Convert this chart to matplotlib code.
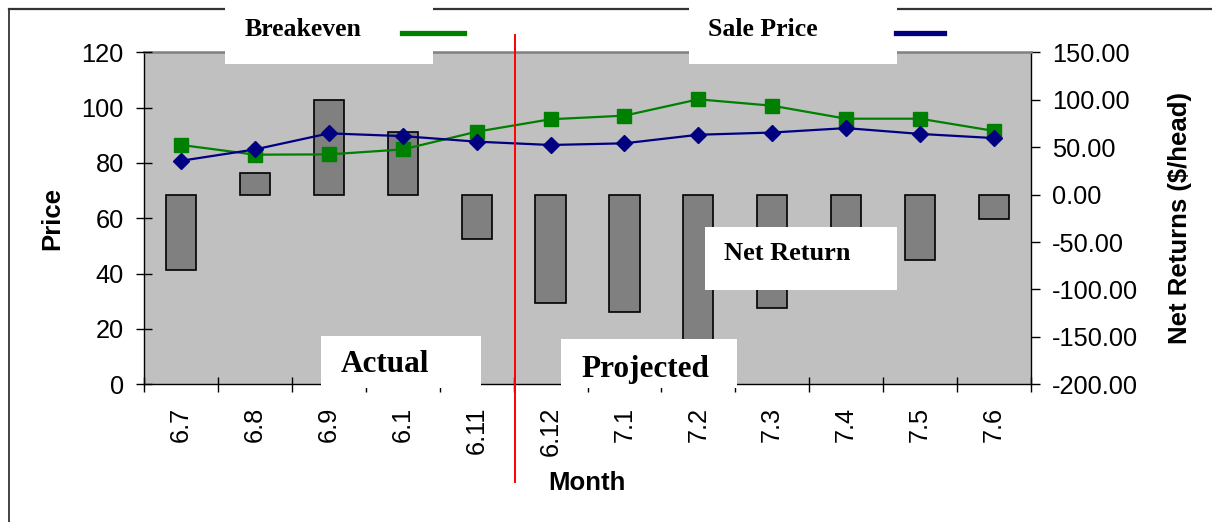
import matplotlib
matplotlib.use("Agg")
import matplotlib.pyplot as plt
from matplotlib.patches import Rectangle
from matplotlib.lines import Line2D
from matplotlib.transforms import blended_transform_factory
import numpy as np

months = ["6.7", "6.8", "6.9", "6.1", "6.11", "6.12", "7.1", "7.2", "7.3", "7.4", "7.5", "7.6"]
breakeven = [86.5, 83.0, 83.1, 84.9, 91.3, 95.8, 97.1, 103.0, 100.7, 96.0, 96.0, 91.6]
sale_price = [80.8, 84.9, 90.7, 89.7, 87.7, 86.5, 87.1, 90.2, 91.0, 92.6, 90.5, 89.0]
net_return = [-79, 23, 100, 66, -47, -114, -124, -160, -120, -75, -69, -26]
price_ticks = [0, 20, 40, 60, 80, 100, 120]
return_ticks = [-200, -150, -100, -50, 0, 50, 100, 150]

W, H = 1212, 522
fig = plt.figure(figsize=(W / 100, H / 100), dpi=100)
SANS = "Liberation Sans"
SERIF = "Liberation Serif"

def fx(px):
    return px / W

def fy(py):
    return 1 - py / H

L, R, T, B = 144.3, 1030.7, 52.3, 384.3
pos = [fx(L), fy(B), fx(R) - fx(L), fy(T) - fy(B)]

# outer frame (only top and left visible)
fig.add_artist(Line2D([fx(9), fx(9)], [fy(9), 0], color="#222222", lw=1.2, transform=fig.transFigure))
fig.add_artist(Line2D([fx(9), 1], [fy(9), fy(9)], color="#333333", lw=1.6, transform=fig.transFigure))

x = np.arange(len(months))

# bars axis (right scale)
axb = fig.add_axes(pos)
axb.set_facecolor("#C0C0C0")
axb.bar(x, net_return, width=0.41, color="#808080", edgecolor="black", linewidth=1.2, zorder=2)
axb.set_ylim(-200, 150)
axb.set_xlim(-0.5, len(months) - 0.5)
axb.yaxis.tick_right()
axb.set_yticks(return_ticks)
axb.set_yticklabels([f"{v:.2f}" for v in return_ticks], fontfamily=SANS, fontsize=18.3)
axb.tick_params(axis="y", direction="out", length=6.5, width=1, pad=9, right=True, left=False)
axb.tick_params(axis="x", which="both", bottom=False, labelbottom=False)
for s in ["left", "right", "bottom"]:
    axb.spines[s].set_color("black")
    axb.spines[s].set_linewidth(1.0)
axb.spines["top"].set_color("#808080")
axb.spines["top"].set_linewidth(1.8)
axb.set_ylabel("Net Returns ($/head)", fontfamily=SANS, fontsize=18.5, fontweight="bold")
axb.yaxis.set_label_position("right")

# lines axis (left scale)
axl = fig.add_axes(pos, sharex=axb)
axl.patch.set_visible(False)
for s in axl.spines.values():
    s.set_visible(False)
axl.plot(x, breakeven, color="#008000", lw=1.6, marker="s", ms=10, mfc="#008000", mec="#008000", zorder=3)
axl.plot(x, sale_price, color="#000080", lw=1.6, marker="D", ms=8, mfc="#000080", mec="#000080", zorder=4)
axl.set_ylim(0, 120)
axl.set_yticks(price_ticks)
axl.set_yticklabels([str(v) for v in price_ticks], fontfamily=SANS, fontsize=18.3)
axl.tick_params(axis="y", direction="inout", length=11.5, width=1, pad=9)
axl.set_xticks(np.arange(-0.5, len(months), 1.0))
axl.set_xticklabels([])
axl.set_xticks(x, minor=True)
axl.set_xticklabels(months, minor=True, rotation=90, fontfamily=SANS, fontsize=18.3)
axl.tick_params(axis="x", which="major", direction="inout", length=10.8, width=1)
axl.tick_params(axis="x", which="minor", length=0, pad=16)
axl.set_xlim(-0.5, len(months) - 0.5)
axl.set_ylabel("Price", fontfamily=SANS, fontsize=18.5, fontweight="bold")
axl.set_xlabel("Month", fontfamily=SANS, fontsize=18.5, fontweight="bold")

# label positions (axes coords)
axl.yaxis.set_label_coords((52 - L) / (R - L), (B - 218) / (B - T))
axl.yaxis.label.set_va("center")
axb.yaxis.set_label_coords((1180 - L) / (R - L), (B - 218) / (B - T))
axb.yaxis.label.set_va("center")
axl.xaxis.set_label_coords((587 - L) / (R - L), (B - 483) / (B - T))
axl.xaxis.label.set_va("center")

# red divider line between actual and projected
tr = blended_transform_factory(axl.transData, fig.transFigure)
axl.add_line(Line2D([4.52, 4.52], [fy(35), fy(482)], color="#FF0000", lw=1.4, transform=tr, clip_on=False, zorder=10))

# white annotation boxes
def wbox(x0, y0, x1, y1):
    fig.add_artist(Rectangle((fx(x0), fy(y1)), fx(x1) - fx(x0), fy(y0) - fy(y1),
                             transform=fig.transFigure, facecolor="white", edgecolor="none", zorder=20))

wbox(225, 6, 433, 64)
wbox(689, 6, 897, 64)
wbox(705, 227, 897, 290)
wbox(321, 336, 481, 388)
wbox(561, 339, 737, 388)

fig.add_artist(Line2D([fx(402), fx(464)], [fy(32.5), fy(32.5)], color="#008000", lw=3.8, transform=fig.transFigure, zorder=21))
fig.add_artist(Line2D([fx(896), fx(944)], [fy(32.5), fy(32.5)], color="#000080", lw=3.8, transform=fig.transFigure, zorder=21))

def wtext(px, py, s, size):
    fig.text(fx(px), fy(py), s, fontfamily=SERIF, fontweight="bold", fontsize=size,
             ha="left", va="center", zorder=22)

wtext(245, 30, "Breakeven", 18.5)
wtext(708, 30, "Sale Price", 18.5)
wtext(724, 254, "Net Return", 19)
wtext(341, 365, "Actual", 22.5)
wtext(581, 369, "Projected", 22.5)

fig.savefig("out.png", dpi=100)
